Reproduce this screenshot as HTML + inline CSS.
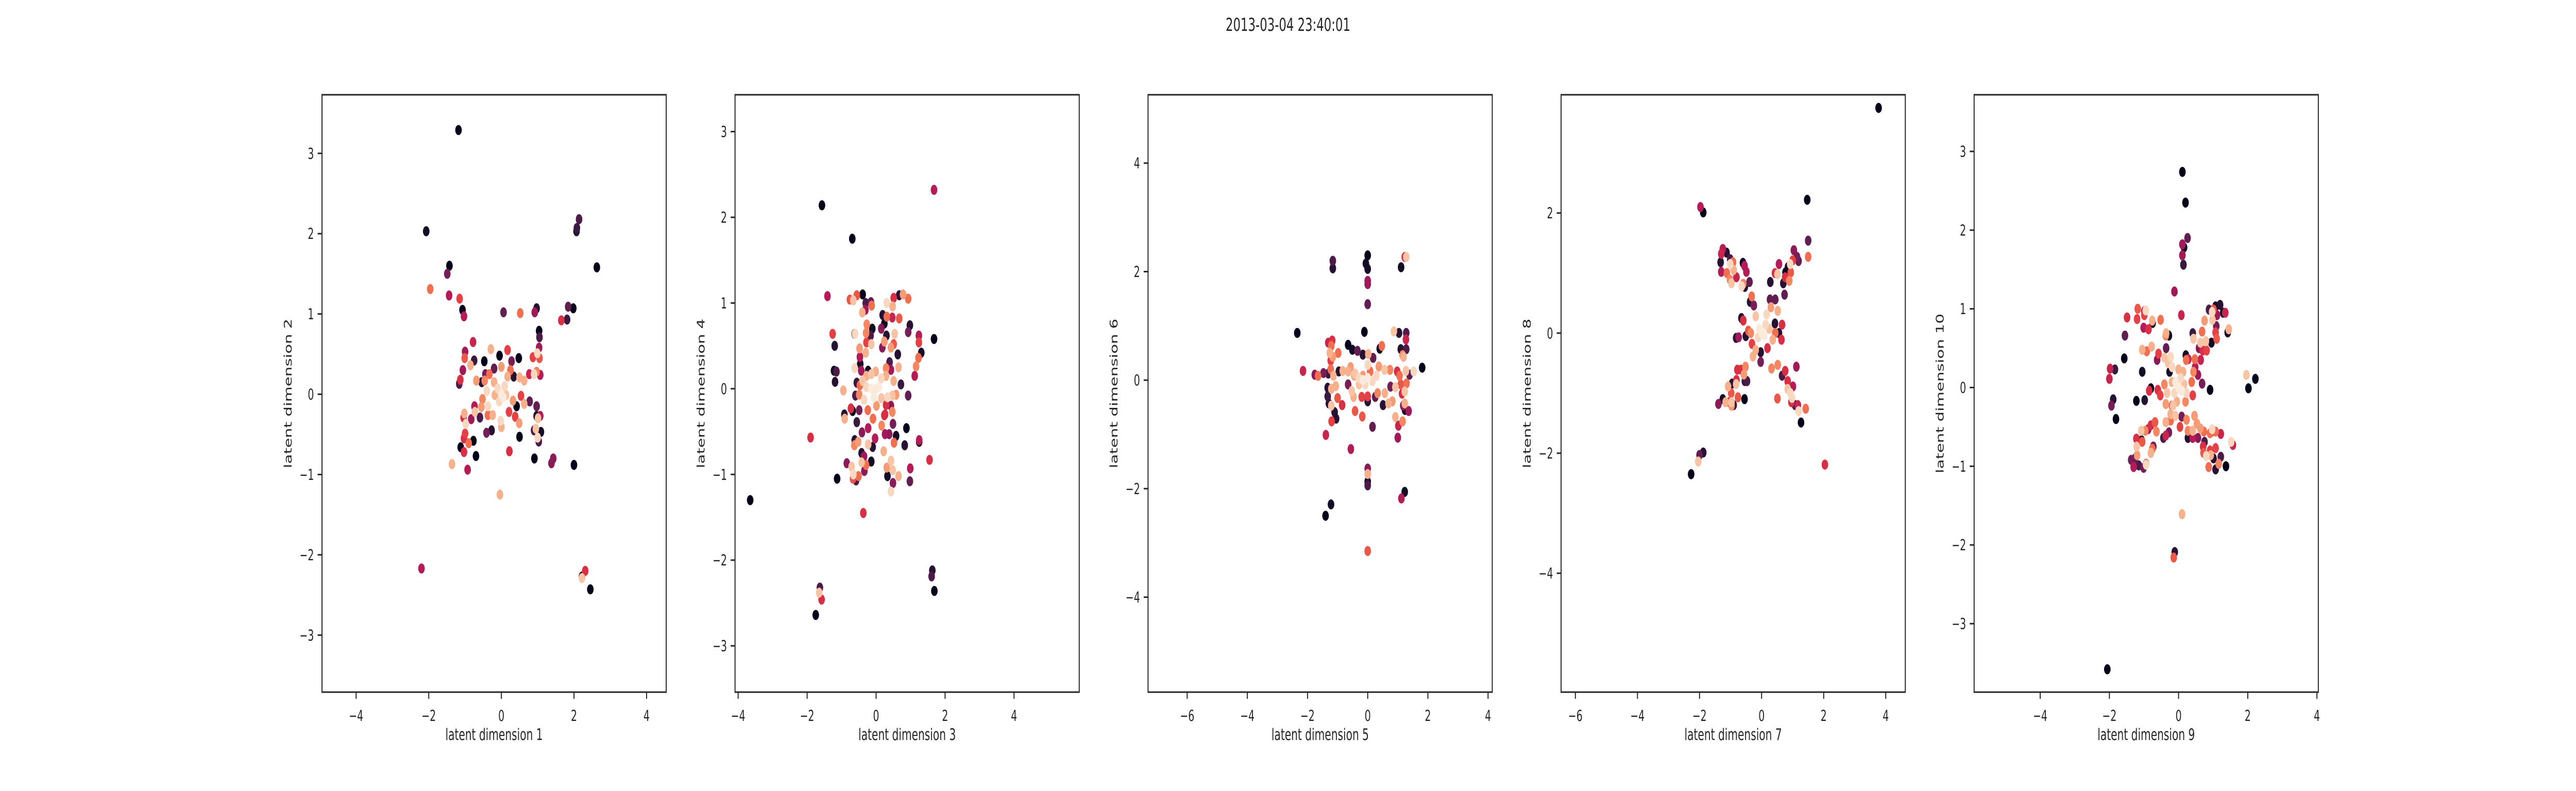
<!DOCTYPE html>
<html><head><meta charset="utf-8"><title>latent dimensions 2013-03-04 23:40:01</title>
<style>
html,body{margin:0;padding:0;background:#fff;width:100vw;height:100vh;overflow:hidden;}
svg{display:block;width:100vw;height:100vh;font-family:"DejaVu Sans","Liberation Sans",sans-serif;}
</style></head>
<body>
<svg id="fig" viewBox="0 0 7680 1536" preserveAspectRatio="none" xmlns="http://www.w3.org/2000/svg">
<rect x="0" y="0" width="7680" height="1536" fill="#fff"/>
<text x="3840" y="60" text-anchor="middle" font-size="35" fill="#262626">2013-03-04 23:40:01</text>
</svg>
<script>
// ---------- data (latent coordinates) ----------
const p1x = [-1.18,-2.07,-1.43,-1.49,-1.96,-1.44,-1.15,-1.07,-1.03,0.06,0.52,0.92,0.97,2.14,2.08,2.07,2.63,1.84,1.98,1.65,1.81,1.04,1.05,-0.78,-2.2,2.31,2.22,2.22,2.45,2.0,0.91,1.43,1.38,-0.04,-1.36,-0.93,-1.03,0.22,-0.70,-0.77,0.5,-1.12,
-0.29,0.17,0.48,-0.05,-0.47,-1.0,-1.01,-0.85,-1.06,-1.13,-1.16,-0.75,-0.2,0,0.28,0.25,0.17,0.34,0.5,0.63,0.87,0.99,1.04,1.05,0.97,0.9,1.07,0.77,-0.33,-0.44,-0.46,-0.69,-0.54,-0.2,-0.4,-0.52,-0.55,-0.74,0.32,0.42,0.54,0.63,0.78,0.97,0.97,1.07,1.01,0.9,0.95,1.09,1.03,1.0,0.38,0.49,0.21,-0.02,0,-0.24,-0.37,-0.37,-0.59,-0.41,-0.27,-0.73,-1.02,-1.04,-0.83,-0.98,-1.0,-1.03,-0.9,
0,0.05,-0.1,0.09,-0.06,0.13,-0.18];
const p1y = [3.29,2.03,1.60,1.50,1.31,1.23,1.19,1.05,0.97,1.02,1.01,1.02,1.07,2.18,2.07,2.03,1.58,1.09,1.07,0.92,0.93,0.79,0.71,0.65,-2.17,-2.20,-2.27,-2.29,-2.43,-0.88,-0.80,-0.80,-0.86,-1.25,-0.87,-0.94,-0.72,-0.71,-0.77,-0.58,-0.53,-0.66,
0.56,0.55,0.45,0.48,0.41,0.53,0.45,0.36,0.30,0.18,0.13,0.42,0.32,0.34,0.41,0.30,0.22,0.22,0.21,0.17,0.46,0.51,0.58,0.45,0.28,0.25,0.24,0.25,0.25,0.25,0.17,0.17,0.15,0.15,0.04,-0.06,-0.16,-0.15,-0.08,-0.15,-0.02,-0.12,-0.09,-0.15,-0.27,-0.27,-0.30,-0.45,-0.43,-0.47,-0.59,-0.54,-0.28,-0.36,-0.22,-0.33,-0.41,-0.26,-0.26,-0.15,-0.29,-0.48,-0.45,-0.22,-0.24,-0.29,-0.31,-0.37,-0.49,-0.55,-0.61,
0,-0.04,0.07,0.1,-0.09,-0.01,-0.01];
const p1c = [0,0.05,0,0.3,0.7,0.45,0.6,0,0.45,0.25,0.7,0.4,0.1,0.2,0.15,0.1,0,0.25,0,0.55,0.15,0,0.2,0.5,0.45,0.55,0.1,0.9,0,0,0,0.35,0.35,0.85,0.85,0.45,0.55,0.55,0,0,0,0,
0.85,0.6,0,0,0,0.4,0.65,0.85,0.4,0.55,0.2,0.15,0.25,0.8,0.3,0.7,0.85,0.1,0.85,0.85,0.6,0.95,0.4,0.65,0.75,0.95,0.45,0.5,0.7,0.3,0.75,0.8,0.1,0.85,0.95,0.75,0.8,0.45,0.8,0,0.6,0.85,0.25,0.25,0.1,0.45,0.9,0.2,0.9,0.05,0.2,0.95,0.6,0.8,0.6,0.95,0.85,0.85,0.7,0.95,0.2,0.3,0.1,0.9,0.85,0.55,0.4,0.95,0.6,0.55,0.7,
1,1,0.95,0.95,0.95,0.9,0.85];

const p2x = [-1.57,-0.69,1.68,-1.41,-1.26,-1.2,-1.22,-1.15,-1.19,-0.95,1.68,1.31,1.24,1.24,1.23,1.16,1.12,0.98,0.93,0.93,0.72,0.88,0.83,1.25,1.25,1.55,0.99,0.98,-1.9,-0.92,-0.91,-0.73,-0.68,-1.13,-0.85,-0.37,-3.65,-1.63,-1.65,-1.58,-1.75,1.63,1.61,1.69,
-0.76,-0.66,-0.56,-0.39,-0.30,-0.15,-0.13,-0.31,-0.40,0.31,0.48,0.51,0.67,0.78,0.93,0.19,0.24,0.31,0.47,0.67,0.15,0.30,0.54,0.51,0.24,0.43,0.63,0.18,0.39,0.65,0.29,0.43,-0.27,-0.11,-0.62,-0.61,-0.29,-0.16,-0.14,-0.28,-0.48,-0.30,-0.47,-0.46,-0.62,-0.43,-0.23,
-0.56,-0.39,-0.47,-0.28,-0.14,-0.01,0.15,0.29,0.51,0.58,0.47,0.33,0.15,0.01,-0.06,0,0.08,-0.14,-0.28,-0.35,-0.49,-0.6,-0.24,0.29,0.43,0.26,-0.09,
0.43,0.49,0.65,0.33,0.31,0.48,0.43,0.22,0.58,0.52,0.38,0.26,0.49,0.16,0.24,0.47,-0.03,-0.14,-0.10,-0.23,-0.23,-0.62,-0.63,-0.52,-0.56,-0.49,-0.41,-0.42,-0.35,-0.29,-0.42,-0.71,-0.66,-0.67,-0.58,-0.51,-0.34];
const p2y = [2.14,1.75,2.32,1.08,0.64,0.50,0.21,0.20,0.08,-0.02,0.58,0.42,0.62,0.54,0.36,0.26,0.15,0.74,0.66,-0.08,0.05,-0.46,-0.66,-0.62,-0.60,-0.83,-0.93,-1.08,-0.57,-0.30,-0.35,-0.23,-0.26,-1.05,-0.87,-1.45,-1.30,-2.32,-2.38,-2.46,-2.64,-2.12,-2.19,-2.36,
1.04,1.03,1.09,1.10,1.0,1.01,0.97,0.92,0.89,1.0,0.96,1.06,1.09,1.10,1.05,0.86,0.76,0.84,0.83,0.82,0.70,0.62,0.64,0.52,0.55,0.48,0.40,0.48,0.31,0.25,0.24,0.22,0.75,0.70,0.64,0.64,0.65,0.62,0.52,0.54,0.47,0.42,0.37,0.29,0.24,0.21,0.21,
0.07,0.09,0.04,0.15,0.17,0.2,0.12,0.15,0.09,-0.07,-0.08,-0.1,-0.11,-0.2,-0.1,0,0.02,0,0.02,-0.13,-0.07,-0.08,-0.25,-0.19,-0.2,-0.3,-0.35,
-1.20,-1.10,-1.02,-1.02,-0.92,-0.95,-0.84,-0.73,-0.55,-0.63,-0.53,-0.53,-0.41,-0.43,-0.31,-0.27,-0.58,-0.85,-0.68,-0.65,-0.46,-0.60,-0.66,-0.62,-0.39,-0.25,-0.51,-0.75,-0.79,-0.89,-0.86,-0.91,-1.0,-1.05,-1.07,-1.02,-0.96];
const p2c = [0,0,0.45,0.45,0.6,0.1,0.05,0.2,0.1,0.85,0,0.05,0.45,0.6,0.7,0.75,0.45,0.1,0.3,0.25,0.15,0,0.1,0.05,0.45,0.55,0.45,0.25,0.55,0.1,0.85,0.55,0,0,0.35,0.55,0,0.2,0.9,0.55,0,0.1,0.2,0,
0.65,0.9,0.65,0,0.2,0.25,0.7,0.4,0.85,0.95,0.85,0.55,0.1,0.8,0.7,0.1,0.05,0.7,0.5,0.65,0.35,0.1,0.9,0.65,0.8,0.8,0.1,0.35,0.2,0.85,0.75,0.4,0.75,0.05,0.05,0.95,0.75,0.2,0.9,0.6,0.8,0.85,0.45,0.05,0.95,0.4,0.05,
0.15,0.9,0.7,0.85,0.9,0.85,0.95,0.85,0.85,0.8,0.9,0.95,0.9,0.8,1,1,1,1,0.95,0.95,0.75,0.2,0.7,0.55,0.35,0.55,0.7,
0.95,0.35,0.85,0.05,0.8,0.9,0.9,0.85,0.05,0.7,0.35,0.4,0.3,0.75,0.55,0.75,0.45,0.05,0.1,0.9,0.45,0.1,0.75,0.8,0.15,0.3,0.35,0.1,0.4,0.7,0.9,0.9,0.95,0.65,0.2,0.7,0.35];

const p3x = [0,-0.06,0,0,0,0,-1.16,-1.16,1.11,1.23,1.28,-2.34,-0.11,-0.65,-0.34,-1.18,-1.05,-1.2,-1.39,-0.85,-0.42,-0.18,-0.56,0.16,0,0,0,0,-1.22,-1.40,1.23,1.12,0,1.02,1.0,0.51,0.87,1.1,1.27,1.81,1.53,-2.15,-1.76,-1.65,
-0.16,0.02,0.18,-0.51,0.40,0.47,1.39,1.04,1.28,1.28,1.16,1.19,-1.47,-1.31,-1.21,-1.26,-1.16,-0.98,-1.23,-1.23,-1.31,-1.14,-1.33,-1.21,-1.33,-1.29,-1.21,-1.10,-1.0,-1.06,-0.96,-0.83,-0.57,-0.42,-0.65,-0.53,-0.47,0.92,1.16,1.23,1.18,1.36,1.24,1.14,1.23,1.29,1.10,0.92,0.76,0.82,0.69,0.57,0.33,0.25,0,0,-0.20,-0.29,-0.16,0.08,0.37,0.56,0.74,0.98,1.06,1.27,
-0.16,0,0.16,-0.29,0.29,-0.08,0,-0.45,-0.65];
const p3y = [2.30,2.15,2.05,1.83,1.77,1.40,2.20,2.06,2.08,2.27,2.27,0.87,0.89,0.65,0.54,0.73,-0.71,-0.76,-1.01,-0.46,-0.57,-0.67,-1.27,-0.86,-1.63,-1.73,-1.87,-1.94,-2.29,-2.50,-2.06,-2.18,-3.15,-0.84,-1.06,-0.46,0.9,0.57,0.75,0.23,0.16,0.17,0.10,0.08,
0.47,0.48,0.41,0.56,0.58,0.63,0.10,0.87,0.87,0.57,0.46,0.43,0.13,0.69,0.63,0.50,0.43,0.50,0.36,0.20,0.12,0.08,-0.14,-0.16,-0.30,-0.43,-0.47,-0.59,-0.33,-0.11,0.16,0.17,0.24,0.12,-0.08,-0.20,-0.31,-0.68,-0.76,-0.43,-0.47,-0.57,-0.55,-0.25,-0.21,-0.06,-0.08,-0.13,-0.12,-0.39,-0.43,-0.24,-0.24,-0.31,-0.39,-0.30,-0.31,-0.08,0.08,0.16,0.25,0.19,0.19,0.16,0.08,0.17,
0,0.04,-0.02,0.04,0.08,-0.08,0.28,0.08,0.16];
const p3c = [0,0.05,0.05,0.4,0.4,0.25,0.2,0.1,0.05,0.55,0.9,0,0,0,0.25,0.55,0.1,0.6,0.5,0.55,0.65,0.65,0.45,0.25,0.35,0.85,0.05,0.2,0.05,0,0.05,0.45,0.65,0.5,0.4,0.1,0.9,0.1,0.5,0,0.95,0.5,0.35,0.7,
0.1,0.85,0.25,0.05,0.05,0.7,0.25,0.1,0.2,0.2,0.75,0.85,0.3,0.5,0.7,0.85,0.8,0.7,0.6,0.7,0.15,0.85,0.1,0.85,0.15,0.1,0.9,0.1,0.65,0.85,0.1,0.85,0.8,0.9,0.3,0.9,0.85,0.85,0.75,0.85,0.35,0.4,0.05,0.55,0.9,0.7,0.65,0.9,0.3,0.8,0.85,0.85,0.75,0.25,0.1,0.6,0.6,0.9,0.8,0.7,0.8,0.9,0.75,0.55,0.7,0.9,
1,1,0.95,0.95,0.95,0.95,0.95,0.85,0.85];

const p4x = [3.77,1.47,1.50,1.50,-1.97,-1.88,2.04,-1.88,-2.0,-2.04,-2.27,1.27,1.19,
-1.25,-1.30,-1.13,-1.32,-1.01,-1.01,-0.92,-1.30,-1.12,-0.90,-1.02,-0.81,-0.97,-0.60,-0.55,-0.49,-0.39,-0.64,-0.59,-0.54,-0.37,-0.32,-0.25,
1.04,1.14,1.19,1.0,0.92,0.85,0.56,0.77,0.94,0.76,0.89,0.70,0.43,0.51,0.28,0.74,0.44,0.27,0.52,0.30,0.66,0.16,
0,-0.07,0.09,-0.11,0.13,-0.19,0.25,0.36,-0.35,-0.43,-0.59,-0.65,-0.19,-0.28,-0.03,-0.03,0.19,0.44,0.56,0.43,0.64,-0.51,-0.74,-0.82,-0.31,
-0.52,-0.57,-0.66,-0.78,-0.81,-0.95,-1.08,-0.82,-0.98,-0.76,-0.55,-0.54,-0.47,-1.25,-1.39,-1.16,-1.04,-0.97,-0.97,-0.90,
0.32,0.52,0.76,0.66,1.12,0.84,1.01,0.84,0.93,0.51,0.96,0.98,1.08,1.17,1.42];
const p4y = [3.75,2.22,1.54,1.27,2.10,2.01,-2.19,-1.99,-2.03,-2.14,-2.35,-1.49,-1.30,
1.40,1.32,1.34,1.18,1.23,1.15,1.18,1.02,1.0,1.05,0.89,0.93,0.83,1.17,1.12,1.02,0.85,0.78,0.82,0.77,0.52,0.61,0.46,
1.38,1.27,1.20,1.21,1.15,1.10,1.15,1.01,1.01,0.93,0.87,0.83,1.0,0.98,0.85,0.64,0.56,0.56,0.37,0.43,0.14,0.31,
0,0.07,-0.04,-0.07,0.14,0.28,0.07,-0.11,0,0.04,0.21,0.25,-0.28,-0.39,-0.32,-0.48,-0.25,0,0,0.16,-0.11,-0.05,-0.07,-0.08,-0.18,
-0.56,-0.69,-0.61,-0.61,-0.78,-0.84,-0.89,-0.85,-1.0,-1.07,-1.10,-0.80,-0.80,-1.10,-1.18,-1.15,-1.15,-1.15,-1.21,-1.20,
-0.59,-0.53,-0.63,-0.71,-0.56,-0.80,-0.89,-0.93,-1.0,-1.09,-1.15,-1.08,-1.20,-1.20,-1.26];
const p4c = [0,0,0.25,0.7,0.45,0,0.55,0.1,0.25,0.9,0,0,0.95,
0.45,0.5,0.1,0.1,0.2,0.95,0.7,0.45,0.7,0.85,0.75,0.5,0.9,0.05,0.45,0.45,0.25,0.95,0.75,0.1,0.1,0.7,0.3,
0.35,0.3,0.25,0.6,0.95,0.05,0.45,0,0.65,0.55,0.75,0.1,0.55,0.9,0.1,0.25,0.25,0.25,0.85,0.8,0.55,0.95,
1,1,1,0.95,0.95,0.9,0.9,0.85,0.75,0.65,0.55,0.1,0.85,0.85,0.1,0.3,0.55,0.7,0.1,0.1,0.55,0.1,0.4,0.1,0.6,
0.75,0.8,0.55,0.55,0.55,0.1,0.85,0.9,0.65,0.65,0,0.15,0.2,0.05,0.35,0.85,0.55,0.9,0.8,0.15,
0.75,0.75,0.55,0.2,0.4,0.55,0.45,0.9,0.95,0.65,0.55,0.95,0.2,0.5,0.7];

const p5x = [-2.06,0.11,0.20,0.26,0.11,0.16,0.11,0.14,-0.12,0.08,0.1,-0.11,-0.14,2.22,2.02,1.96,1.52,1.57,1.37,
1.22,1.07,1.16,0.87,0.80,0.93,1.01,0.91,0.72,0.71,0.75,1.07,0.96,0.97,1.07,0.91,1.22,0.73,0.63,0.53,0.46,0.41,0.27,0.56,0.41,0.27,0.23,0.09,0.04,-0.09,-0.23,-0.37,
-0.28,-0.44,-0.37,-0.64,-0.68,-0.80,-0.88,-0.76,-0.73,-0.80,-1.05,-1.22,-1.07,-1.21,-1.20,-1.26,-1.37,-1.30,-1.15,-0.94,-0.94,-1.01,-1.08,-0.96,
-1.49,-1.18,-0.99,-0.95,-1.20,-0.99,-0.76,-0.75,-0.52,-1.01,-0.87,-1.55,-0.37,-0.36,-0.28,-1.05,-0.92,-0.78,-0.58,-0.62,-0.36,-0.41,-0.23,-1.57,-1.98,-1.84,-2.0,-1.89,-1.94,-1.81,-1.22,-0.98,-1.05,-0.80,-0.85,-0.60,-0.53,-0.41,-0.33,-0.37,-0.19,-0.23,-0.30,-0.26,-0.19,
1.20,1.07,1.35,1.29,1.01,0.97,0.88,1.11,1.09,1.42,1.45,0.75,0.98,0.95,1.07,1.10,0.68,0.79,0.63,0.41,0.43,0.59,0.70,0.81,0.64,0.47,0.21,0.22,0.28,0.48,0.43,0.56,0.68,0.38,0.91,0.41,0.23,
0,-0.09,0.09,-0.12,0.06,0.16,-0.19,-0.05,-0.16,0.13,0.2,0];
const p5y = [-3.58,2.74,2.35,1.90,1.82,1.78,1.68,1.56,1.22,0.92,-1.61,-2.09,-2.16,0.11,-0.01,0.16,-0.69,-0.73,-1.0,
-0.88,-1.04,-0.97,-1.01,-0.87,-0.86,-0.90,-0.80,-0.83,-0.75,-0.69,-0.77,-0.56,-0.53,-0.56,-0.58,-0.59,-0.56,-0.52,-0.46,-0.36,-0.55,-0.55,-0.64,-0.64,-0.64,-0.41,-0.37,-0.50,-0.36,-0.42,-0.44,
-0.57,-0.64,-0.61,-0.56,-0.44,-0.48,-0.53,-0.78,-0.75,-0.83,-0.69,-0.65,-0.67,-0.75,-0.86,-0.90,-0.92,-1.01,-0.99,-0.98,-0.97,-1.02,-0.55,-0.55,
0.89,1.0,0.97,0.98,0.87,0.92,0.85,0.82,0.86,0.76,0.74,0.66,0.66,0.69,0.66,0.48,0.46,0.52,0.43,0.35,0.50,0.38,0.39,0.37,0.24,0.23,0.11,-0.15,-0.23,-0.40,-0.17,-0.16,0.20,-0.01,-0.04,-0.03,-0.10,0.04,-0.07,-0.21,-0.23,-0.34,0.31,0.20,0.26,
1.05,1.03,0.95,0.95,0.99,0.96,0.99,0.92,0.78,0.70,0.74,0.85,0.86,0.57,0.70,0.62,0.71,0.59,0.57,0.69,0.62,0.50,0.47,0.47,0.35,0.36,0.41,0.35,0.36,0.26,0.20,0.16,0.05,0.07,-0.03,-0.10,-0.07,
0,0.07,-0.04,-0.07,0.12,0.04,0.07,-0.18,-0.23,0.20,-0.18,0.23];
const p5c = [0,0,0,0.25,0.4,0.05,0.4,0.15,0.4,0.5,0.85,0.1,0.65,0,0,0.9,0.95,0.5,0,
0.2,0.1,0.75,0.7,0.95,0.85,0.1,0.6,0.65,0.55,0.2,0.6,0.3,0.95,0.7,0.7,0.5,0.7,0.8,0.8,0.8,0.85,0.75,0.35,0.45,0.1,0.75,0.3,0.6,0.9,0.7,0.85,
0.3,0.2,0.5,0.75,0.65,0.55,0.4,0.7,0.3,0.85,0.65,0.55,0.05,0.9,0.8,0.25,0.3,0.45,0.2,0.95,0.6,0.3,0.9,0.75,
0.55,0.65,0.5,0.95,0.6,0.6,0.85,0.1,0.7,0.45,0.55,0.25,0.75,0.85,0.05,0.85,0.7,0.85,0.6,0.35,0.25,0.9,0.95,0,0.5,0.15,0.5,0.1,0.3,0,0,0.1,0.05,0,0.55,0.55,0.6,0.75,0.9,0.8,0.65,0.85,0.9,0.05,0.95,
0.1,0.05,0.5,0.05,0.65,0.95,0.2,0.4,0.3,0.05,0.85,0.8,0.9,0.05,0.6,0.65,0.7,0.9,0.9,0.15,0.9,0.35,0.55,0.6,0.5,0.7,0.05,0.7,0.5,0.45,0.75,0.4,0.3,0.7,0,0.6,0.95,
1,1,1,0.95,0.95,0.9,0.85,0.85,0.9,0.85,0.75,0.85];

const xTicks1 = [-4,-2,0,2,4], yTicks1 = [-3,-2,-1,0,1,2,3];
const xTicks2 = [-4,-2,0,2,4], yTicks2 = [-3,-2,-1,0,1,2,3];
const xTicks3 = [-6,-4,-2,0,2,4], yTicks3 = [-4,-2,0,2,4];
const xTicks4 = [-6,-4,-2,0,2,4], yTicks4 = [-4,-2,0,2];
const xTicks5 = [-4,-2,0,2,4], yTicks5 = [-3,-2,-1,0,1,2,3];
const xLabels = ['latent dimension 1','latent dimension 3','latent dimension 5','latent dimension 7','latent dimension 9'];
const yLabels = ['latent dimension 2','latent dimension 4','latent dimension 6','latent dimension 8','latent dimension 10'];

// ---------- layout ----------
const NS = 'http://www.w3.org/2000/svg';
const svg = document.getElementById('fig');
const TOP = 184, BOTTOM = 1344, W = 1026.2, STEP = 1231.4, LEFT0 = 960;
const panels = [
  {xs:p1x, ys:p1y, cs:p1c, xl:[-4.94,4.54], yl:[-3.71,3.73], xt:xTicks1, yt:yTicks1},
  {xs:p2x, ys:p2y, cs:p2c, xl:[-4.09,5.89], yl:[-3.54,3.43], xt:xTicks2, yt:yTicks2},
  {xs:p3x, ys:p3y, cs:p3c, xl:[-7.30,4.14], yl:[-5.75,5.26], xt:xTicks3, yt:yTicks3},
  {xs:p4x, ys:p4y, cs:p4c, xl:[-6.46,4.63], yl:[-5.98,3.97], xt:xTicks4, yt:yTicks4},
  {xs:p5x, ys:p5y, cs:p5c, xl:[-5.91,4.04], yl:[-3.87,3.72], xt:xTicks5, yt:yTicks5}
];

const stops = [[3,5,26],[53,25,62],[112,31,87],[173,23,89],[225,51,66],[243,118,81],[246,180,143],[250,235,221]];
function rocket(t){
  t = Math.max(0, Math.min(1, t));
  const f = t*(stops.length-1), i = Math.min(stops.length-2, Math.floor(f)), u = f-i;
  const a = stops[i], b = stops[i+1];
  return 'rgb('+a.map((v,k)=>Math.round(v+(b[k]-v)*u)).join(',')+')';
}
function mk(tag, attrs, parent){
  const e = document.createElementNS(NS, tag);
  for (const k in attrs) e.setAttribute(k, attrs[k]);
  parent.appendChild(e);
  return e;
}
function fmt(v){ return v < 0 ? '\u2212' + Math.abs(v) : String(v); }

panels.forEach((p, pi) => {
  const L = LEFT0 + pi*STEP;
  const sx = v => L + (v - p.xl[0]) / (p.xl[1] - p.xl[0]) * W;
  const sy = v => BOTTOM - (v - p.yl[0]) / (p.yl[1] - p.yl[0]) * (BOTTOM - TOP);
  const g = mk('g', {}, svg);
  
  

  const pts = mk('g', {}, g);
  
  
  const order = p.xs.map((_, i) => i).sort((a, b) => p.cs[a] - p.cs[b]);
  order.forEach(i => {
    const c = mk('circle', {cx: sx(p.xs[i]).toFixed(1), cy: sy(p.ys[i]).toFixed(1), r: 9.8, fill: rocket(p.cs[i])}, pts);
    
    
  });

  const frame = mk('rect', {x: L, y: TOP, width: W, height: BOTTOM - TOP, fill: 'none', stroke: '#262626', 'stroke-width': 3}, g);
  
  

  p.xt.forEach(v => {
    const x = sx(v);
    const t = mk('line', {x1: x, y1: BOTTOM, x2: x, y2: BOTTOM + 13, stroke: '#262626', 'stroke-width': 3}, g);
    
    
    const lb = mk('text', {x: x, y: 1400, 'text-anchor': 'middle', 'font-size': 29, fill: '#262626'}, g);
    lb.textContent = fmt(v);
    
    
  });
  p.yt.forEach(v => {
    const y = sy(v);
    const t = mk('line', {x1: L - 13, y1: y, x2: L, y2: y, stroke: '#262626', 'stroke-width': 3}, g);
    
    
    const lb = mk('text', {x: L - 24, y: y + 10.5, 'text-anchor': 'end', 'font-size': 29, fill: '#262626'}, g);
    lb.textContent = fmt(v);
    
    
  });
  const xl = mk('text', {x: L + W/2, y: 1437, 'text-anchor': 'middle', 'font-size': 31, fill: '#262626'}, g);
  xl.textContent = xLabels[pi];
  
  
  const cy = (TOP + BOTTOM) / 2, cx = L - 91;
  const yl = mk('text', {x: cx, y: cy, 'text-anchor': 'middle', 'font-size': 31, fill: '#262626', transform: 'rotate(-90 ' + cx + ' ' + cy + ')'}, g);
  yl.textContent = yLabels[pi];
  
  
});
</script>
</body></html>
